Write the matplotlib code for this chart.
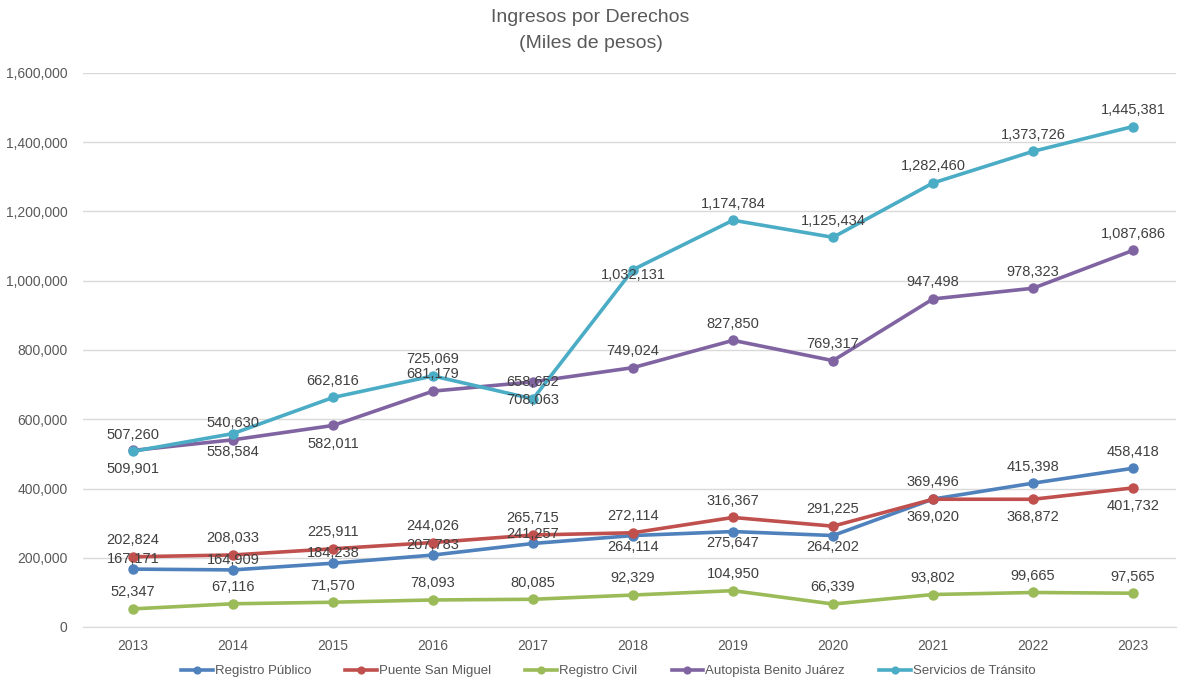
import matplotlib.pyplot as plt
from matplotlib.ticker import FuncFormatter

plt.rcParams['font.family'] = ['Liberation Sans', 'DejaVu Sans']

years = [2013, 2014, 2015, 2016, 2017, 2018, 2019, 2020, 2021, 2022, 2023]
registro_publico = [167171, 164909, 184238, 207783, 241257, 264114, 275647, 264202, 369496, 415398, 458418]
puente_san_miguel = [202824, 208033, 225911, 244026, 265715, 272114, 316367, 291225, 369020, 368872, 401732]
registro_civil = [52347, 67116, 71570, 78093, 80085, 92329, 104950, 66339, 93802, 99665, 97565]
autopista = [509901, 540630, 582011, 681179, 708063, 749024, 827850, 769317, 947498, 978323, 1087686]
transito = [507260, 558584, 662816, 725069, 658652, 1032131, 1174784, 1125434, 1282460, 1373726, 1445381]

names = ['Registro Público', 'Puente San Miguel', 'Registro Civil',
         'Autopista Benito Juárez', 'Servicios de Tránsito']
series = [registro_publico, puente_san_miguel, registro_civil, autopista, transito]
colors = ['#4F81BD', '#C0504D', '#9BBB59', '#8064A2', '#4BACC6']

# label vertical offsets in points (positive = above)
U, D, u, d = 12, -13, 7, -8
offsets = [
    [u, u, u, u, u, d, d, d, U, U, U],
    [U, U, U, U, U, U, U, U, D, D, D],
    [U] * 11,
    [D, U, D, U, D, U, U, U, U, U, U],
    [U, D, U, U, U, -4, U, U, U, U, U],
]

fig = plt.figure(figsize=(11.81, 6.84), dpi=100)
ax = fig.add_axes([83 / 1181, 1 - 627 / 684, (1176 - 83) / 1181, (627 - 73) / 684])

x = list(range(len(years)))
for vals, name, c, offs in zip(series, names, colors, offsets):
    ax.plot(x, vals, color=c, lw=2.6, marker='o', ms=6.5, label=name, zorder=3)
    for xi, v, o in zip(x, vals, offs):
        ax.annotate(f'{v:,}', (xi, v), xytext=(0, o), textcoords='offset points',
                    ha='center', va='center', fontsize=10.5, color='#404040', zorder=4)

ax.set_xlim(-0.5, 10.43)
ax.set_ylim(0, 1600000)
ax.set_yticks(range(0, 1600001, 200000))
ax.yaxis.set_major_formatter(FuncFormatter(lambda v, p: f'{int(v):,}'))
ax.set_xticks(x)
ax.set_xticklabels([str(y) for y in years])
ax.tick_params(axis='both', length=0, labelsize=10, colors='#595959')
ax.tick_params(axis='y', pad=11)
ax.tick_params(axis='x', pad=9)
ax.grid(axis='y', color='#D9D9D9', lw=1)
ax.set_axisbelow(True)
for s in ['top', 'right', 'left']:
    ax.spines[s].set_visible(False)
ax.spines['bottom'].set_color('#D9D9D9')

fig.text(0.5, 1 - 18 / 684, 'Ingresos por Derechos', ha='center', va='center',
         fontsize=14, color='#595959')
fig.text(0.5, 1 - 44 / 684, '(Miles de pesos)', ha='center', va='center',
         fontsize=14, color='#595959')

fig.legend(loc='center', bbox_to_anchor=(0.515, 1 - 671 / 684), ncol=5, frameon=False,
           fontsize=9.5, labelcolor='#595959', handlelength=2.4, handletextpad=0.15,
           columnspacing=2.6, markerscale=0.75)

fig.savefig('out.png', dpi=100)
